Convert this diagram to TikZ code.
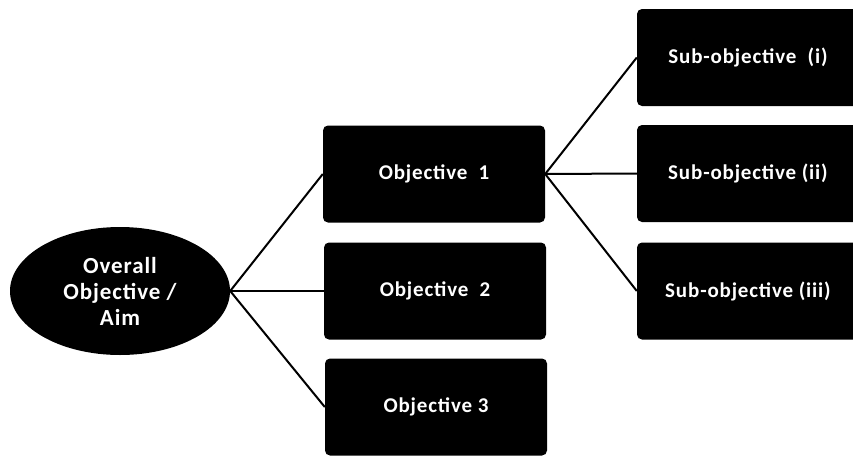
\documentclass[tikz,border=0pt]{standalone}
\usepackage{fontspec}
\setmainfont{Carlito}
\newfontfamily\boxfont[LetterSpace=4]{Carlito}
\usetikzlibrary{shapes.geometric}
\tikzset{
  objbox/.style={fill=black, text=white, rounded corners=5pt, minimum width=222pt,
    minimum height=97pt, inner sep=0pt, font=\boxfont\bfseries\fontsize{21}{25}\selectfont},
  link/.style={line width=2pt, black}
}
\begin{document}
\begin{tikzpicture}[x=1pt, y=-1pt]
\useasboundingbox (0,0) rectangle (853,458);
% Aim
\node[ellipse, fill=black, text=white, minimum width=220pt, minimum height=128pt,
  inner sep=0pt, align=center, font=\boxfont\bfseries\fontsize{23}{26}\selectfont]
  (aim) at (120,291) {Overall\\Objective /\\Aim};
% Objectives
\node[objbox] (obj1) at (434,174) {Objective\ \ 1};
\node[objbox] (obj2) at (435,291) {Objective\ \ 2};
\node[objbox] (obj3) at (436,407) {Objective 3};
% Sub-objectives
\node[objbox] (sub1) at (748,57.5) {Sub-objective\ \ (i)};
\node[objbox] (sub2) at (748,173.5) {Sub-objective (ii)};
\node[objbox] (sub3) at (748,291) {Sub-objective (iii)};
% Links
\draw[link] (aim.east) -- (obj1.west);
\draw[link] (aim.east) -- (obj2.west);
\draw[link] (aim.east) -- (obj3.west);
\draw[link] (obj1.east) -- (sub1.west);
\draw[link] (obj1.east) -- (sub2.west);
\draw[link] (obj1.east) -- (sub3.west);
\end{tikzpicture}
\end{document}
